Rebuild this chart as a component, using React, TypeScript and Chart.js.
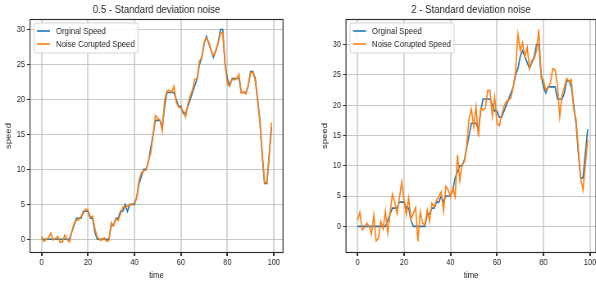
import React, { useEffect, useRef } from "react";
import { Chart, registerables } from "chart.js";

Chart.register(...registerables);

// ---------- data ----------
const originalSpeed = [
  0, 0, 0, 0, 0, 0, 0, 0, 0, 0,
  0, 0, 0, 1, 2, 3, 3, 3, 4, 4,
  4, 3, 3, 1, 0, 0, 0, 0, 0, 0,
  2, 2, 3, 3, 4, 4, 5, 4, 5, 5,
  5, 6, 8, 9, 10, 10, 11, 13, 15, 17,
  17, 17, 16, 19, 21, 21, 21, 21, 20, 19,
  19, 18, 18, 19, 20, 21, 22, 23, 25, 26,
  28, 29, 28, 27, 26, 27, 28, 30, 30, 25,
  23, 22, 23, 23, 23, 23, 21, 21, 21, 22,
  24, 24, 23, 20, 17, 12, 8, 8, 12, 16,
];

const noisySpeedLow = [
  0.4, -0.3, 0.0, 0.2, 0.9, -0.1, 0.1, 0.4, -0.4, -0.4,
  0.6, 0.0, -0.4, 1.0, 2.3, 2.7, 2.8, 3.3, 3.7, 4.3,
  4.2, 3.2, 3.3, 1.5, 0.3, -0.1, -0.1, 0.2, -0.3, -0.2,
  2.4, 1.9, 2.9, 2.7, 3.6, 4.6, 4.5, 4.8, 4.9, 5.0,
  5.2, 6.0, 8.5, 9.5, 9.8, 9.9, 11.2, 12.3, 14.8, 17.7,
  17.3, 17.0, 15.5, 19.9, 21.2, 21.3, 21.0, 21.9, 19.6, 18.9,
  18.8, 18.3, 17.5, 19.3, 20.5, 21.4, 22.9, 23.0, 25.5, 26.0,
  28.1, 28.8, 28.2, 27.0, 26.3, 26.8, 28.1, 29.4, 29.6, 25.1,
  22.2, 21.9, 22.9, 22.8, 23.0, 23.6, 20.9, 21.1, 20.8, 22.0,
  23.8, 23.9, 22.7, 19.9, 16.8, 12.3, 8.1, 8.1, 12.0, 16.7,
];

const noisySpeedHigh = [
  1.0, 2.3, -0.6, -0.2, 0.5, 0.0, -1.3, 1.8, -2.4, -2.0,
  0.8, -0.4, 2.5, -1.1, 2.1, 5.3, 4.0, 2.1, 4.6, 7.3,
  4.3, 1.9, 4.7, 1.2, 2.1, 3.1, -2.5, 2.4, 0.5, 0.2,
  2.7, 0.8, 3.8, 3.2, 4.3, 4.9, 5.7, 2.5, 6.6, 6.0,
  4.9, 6.3, 4.9, 11.8, 7.6, 10.2, 10.7, 13.4, 17.8, 19.3,
  16.4, 19.7, 14.8, 19.5, 19.2, 19.5, 22.4, 22.4, 18.2, 21.4,
  17.0, 16.6, 18.4, 19.7, 20.6, 20.8, 21.2, 23.0, 25.5, 31.7,
  29.0, 30.3, 28.0, 29.5, 26.0, 27.4, 27.6, 29.0, 32.5, 24.5,
  24.1, 22.5, 23.0, 23.7, 26.0, 25.8, 23.3, 18.1, 21.7, 23.0,
  24.4, 23.9, 24.2, 19.2, 17.7, 12.6, 8.0, 6.0, 10.0, 14.3,
];

const timeSteps = originalSpeed.map((_, i) => i);
const xTickValues = [0, 20, 40, 60, 80, 100];
const yTickValues = [0, 5, 10, 15, 20, 25, 30];
const seriesLabels = ["Orginal Speed", "Noise Corupted Speed"];
const panelTitles = ["0.5 - Standard deviation noise", "2 - Standard deviation noise"];
const xAxisTitle = "time";
const yAxisTitle = "speed";

// ---------- style ----------
const FONT = '"Liberation Sans", Arial, sans-serif';
const BLUE = "#1f77b4";
const ORANGE = "#ff7f0e";
const TEXT = "#262626";
// the reference figure is horizontally compressed; each canvas is drawn wider and squeezed
const SQUEEZE = 300 / 366;

Chart.defaults.font.family = FONT;

const titlePlugin = {
  id: "axTitle",
  afterDraw(chart: any, _args: any, opts: any) {
    const { ctx, chartArea: a } = chart;
    ctx.save();
    ctx.font = `11.7px ${FONT}`;
    ctx.fillStyle = TEXT;
    ctx.textAlign = "center";
    ctx.textBaseline = "alphabetic";
    ctx.fillText(opts.text, (a.left + a.right) / 2, 13.4);
    ctx.restore();
  },
};

const framePlugin = {
  id: "frame",
  afterDatasetsDraw(chart: any) {
    const { ctx, chartArea: a } = chart;
    ctx.save();
    ctx.strokeStyle = "#2e2e2e";
    ctx.lineWidth = 1.15;
    ctx.strokeRect(a.left, Math.round(a.top) + 0.5, a.right - a.left, Math.round(a.bottom) - Math.round(a.top) - 1);
    ctx.restore();
  },
};

const legendPlugin = {
  id: "boxLegend",
  afterDraw(chart: any) {
    const { ctx, chartArea: a } = chart;
    const u = 1 / SQUEEZE;
    const x = a.left + 4 * u;
    const y = a.top + 4;
    const w = 104 * u;
    const h = 30;
    const r = 2.5;
    ctx.save();
    ctx.beginPath();
    ctx.moveTo(x + r, y);
    ctx.lineTo(x + w - r, y);
    ctx.quadraticCurveTo(x + w, y, x + w, y + r);
    ctx.lineTo(x + w, y + h - r);
    ctx.quadraticCurveTo(x + w, y + h, x + w - r, y + h);
    ctx.lineTo(x + r, y + h);
    ctx.quadraticCurveTo(x, y + h, x, y + h - r);
    ctx.lineTo(x, y + r);
    ctx.quadraticCurveTo(x, y, x + r, y);
    ctx.closePath();
    ctx.fillStyle = "rgba(255,255,255,0.85)";
    ctx.fill();
    ctx.strokeStyle = "#d6d6d6";
    ctx.lineWidth = 1.1;
    ctx.stroke();
    chart.data.datasets.forEach((ds: any, i: number) => {
      const cy = y + 8 + i * 13;
      ctx.beginPath();
      ctx.strokeStyle = ds.borderColor;
      ctx.lineWidth = 1.6;
      ctx.moveTo(x + 3 * u, cy);
      ctx.lineTo(x + 16 * u, cy);
      ctx.stroke();
      ctx.fillStyle = TEXT;
      ctx.font = `9.5px ${FONT}`;
      ctx.textAlign = "left";
      ctx.textBaseline = "middle";
      ctx.fillText(ds.label, x + 22 * u, cy + 0.5);
    });
    ctx.restore();
  },
};

type PanelProps = {
  left: number;
  width: number;
  padRight: number;
  yWidth: number;
  yTitlePad: number;
  yMin: number;
  yMax: number;
  xMin: number;
  xMax: number;
  noisy: number[];
  title: string;
};

function Panel(p: PanelProps) {
  const ref = useRef<HTMLCanvasElement | null>(null);
  useEffect(() => {
    if (!ref.current) return;
    const tickFont = { family: FONT, size: 9 };
    const chart = new Chart(ref.current, {
      type: "line",
      data: {
        labels: timeSteps,
        datasets: [
          {
            label: seriesLabels[0],
            data: originalSpeed,
            borderColor: BLUE,
            backgroundColor: BLUE,
            borderWidth: 1.6,
            pointRadius: 0,
            tension: 0,
            order: 1,
          },
          {
            label: seriesLabels[1],
            data: p.noisy,
            borderColor: ORANGE,
            backgroundColor: ORANGE,
            borderWidth: 1.6,
            pointRadius: 0,
            tension: 0,
            order: 0,
          },
        ],
      },
      options: {
        animation: false,
        responsive: false,
        devicePixelRatio: 1,
        layout: { padding: { top: 19, right: p.padRight, left: 0, bottom: 0 } },
        plugins: {
          legend: { display: false },
          tooltip: { enabled: false },
          title: { display: false },
          axTitle: { text: p.title },
        } as any,
        scales: {
          x: {
            type: "linear",
            min: p.xMin,
            max: p.xMax,
            afterBuildTicks: (s: any) => {
              s.ticks = xTickValues.map((v) => ({ value: v }));
            },
            afterFit: (s: any) => {
              s.height = 31;
            },
            grid: { color: "rgba(212,212,212,0.95)", lineWidth: 2, tickLength: 3, tickColor: "#333" },
            border: { display: false },
            ticks: { font: tickFont, color: TEXT, padding: 1, maxRotation: 0, autoSkip: false },
            title: {
              display: true,
              text: xAxisTitle,
              color: TEXT,
              font: { family: FONT, size: 9.5 },
              padding: { top: 0, bottom: 3 },
            },
          },
          y: {
            type: "linear",
            min: p.yMin,
            max: p.yMax,
            afterBuildTicks: (s: any) => {
              s.ticks = yTickValues.map((v) => ({ value: v }));
            },
            afterFit: (s: any) => {
              s.width = p.yWidth;
            },
            grid: { color: "rgba(196,196,196,0.95)", lineWidth: 1, tickLength: 3.7, tickColor: "#333" },
            border: { display: false },
            ticks: { font: tickFont, color: TEXT, padding: 2.4, autoSkip: false },
            title: {
              display: true,
              text: yAxisTitle,
              color: TEXT,
              font: { family: FONT, size: 9.5 },
              padding: { top: p.yTitlePad, bottom: 0 },
            },
          },
        },
      } as any,
      plugins: [framePlugin, legendPlugin, titlePlugin],
    });
    return () => chart.destroy();
  }, []);
  return (
    <canvas
      ref={ref}
      width={p.width}
      height={284}
      style={{
        position: "absolute",
        left: p.left,
        top: 0,
        width: p.width,
        height: 284,
        display: "block",
        transform: `scaleX(${SQUEEZE})`,
        transformOrigin: "0 0",
      }}
    />
  );
}

export default function App() {
  const u = 1 / SQUEEZE;
  return (
    <div
      style={{
        position: "absolute",
        left: 0,
        top: 0,
        width: 596,
        height: 284,
        overflow: "hidden",
        background: "#ffffff",
      }}
    >
      <Panel
        left={0}
        width={366}
        padRight={17 * u}
        yWidth={30 * u}
        yTitlePad={4.7}
        yMin={-1.96}
        yMax={31.5}
        xMin={-4.95}
        xMax={103.95}
        noisy={noisySpeedLow}
        title={panelTitles[0]}
      />
      <Panel
        left={300}
        width={378}
        padRight={378 - 296 * u}
        yWidth={46 * u}
        yTitlePad={24.2}
        yMin={-4.4}
        yMax={34.2}
        xMin={-4.95}
        xMax={102.6}
        noisy={noisySpeedHigh}
        title={panelTitles[1]}
      />
    </div>
  );
}
